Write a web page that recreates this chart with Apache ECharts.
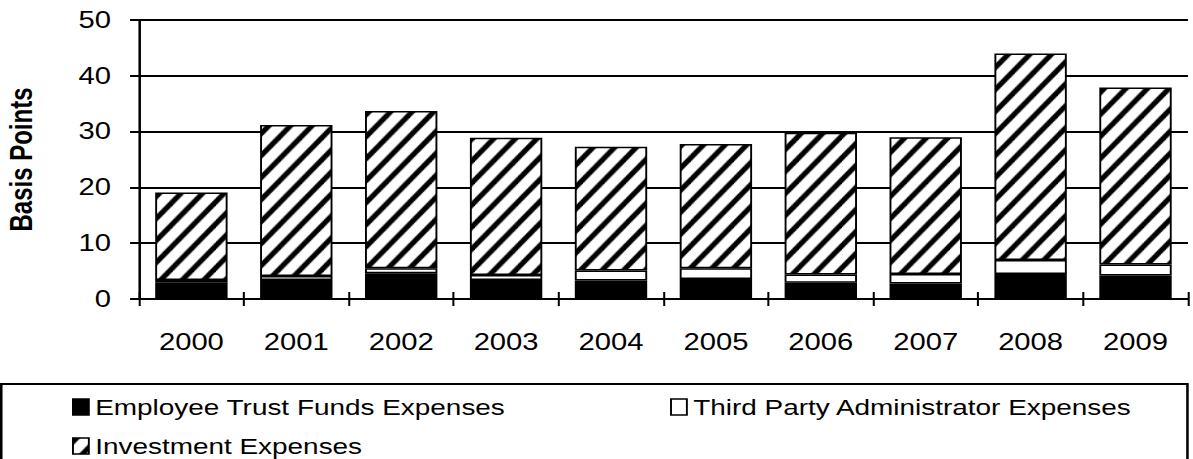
<!DOCTYPE html>
<html><head><meta charset="utf-8">
<script src="https://cdn.jsdelivr.net/npm/echarts@6/dist/echarts.min.js"></script>
<style>
html,body{margin:0;padding:0;background:#fff;overflow:hidden}
#wrap{width:1193px;height:459px;overflow:hidden;position:relative;background:#fff}
#chart{width:939px;height:459px;transform:scaleX(1.27);transform-origin:0 0}
</style></head>
<body><div id="wrap"><div id="chart"></div></div>
<script>
// ---- data ----
const years = ['2000','2001','2002','2003','2004','2005','2006','2007','2008','2009'];
const employeeTrustFunds = [3.0, 3.4, 4.6, 3.4, 3.3, 3.6, 2.9, 2.8, 4.5, 4.2];
const thirdPartyAdmin    = [0.4, 0.7, 0.9, 0.9, 1.8, 1.9, 1.5, 1.7, 2.5, 2.0];
const investment         = [15.7, 27.1, 28.2, 24.6, 22.2, 22.3, 25.4, 24.5, 37.0, 31.7];
const seriesNames = ['Employee Trust Funds Expenses', 'Third Party Administrator Expenses', 'Investment Expenses'];
const yMin = 0, yMax = 50, yInterval = 10;
const yAxisTitle = 'Basis Points';

// ---- hatch pattern (diagonal stripes) ----
function makeHatch() {
  const w = 17, h = 22, t = 0.34;
  const c = document.createElement('canvas');
  c.width = w; c.height = h;
  const ctx = c.getContext('2d');
  ctx.fillStyle = '#fff'; ctx.fillRect(0, 0, w, h);
  ctx.fillStyle = '#000';
  for (let k = -1; k <= 2; k++) {
    ctx.beginPath();
    ctx.moveTo(k * w, 0);
    ctx.lineTo((k + t) * w, 0);
    ctx.lineTo((k + t - 1) * w, h);
    ctx.lineTo((k - 1) * w, h);
    ctx.closePath();
    ctx.fill();
  }
  return c;
}
const hatch = makeHatch();

const FONT = '"Liberation Sans", Arial, Helvetica, sans-serif';
const chart = echarts.init(document.getElementById('chart'), null, {renderer: 'svg'});

const barStyleBase = {borderColor: '#000', borderWidth: 1.5};
const legendCommon = {
  orient: 'horizontal', padding: 0, itemWidth: 12.5, itemHeight: 16, icon: 'rect',
  textStyle: {fontFamily: FONT, fontSize: 22, color: '#000'},
  itemStyle: {borderColor: '#000', borderWidth: 1.5},
  selectedMode: false
};

chart.setOption({
  animation: false,
  backgroundColor: '#fff',
  grid: {left: 109.4, right: 3.6, top: 20, bottom: 160, containLabel: false, outerBoundsMode: 'none'},
  legend: [
    Object.assign({}, legendCommon, {data: [seriesNames[0]], left: 56.7, top: 396}),
    Object.assign({}, legendCommon, {data: [seriesNames[1]], left: 527.6, top: 396}),
    Object.assign({}, legendCommon, {data: [seriesNames[2]], left: 56.7, top: 435})
  ],
  xAxis: [
    {
      type: 'category', data: years, position: 'bottom',
      axisLine: {lineStyle: {color: '#000', width: 2}},
      axisTick: {show: true, length: 7, lineStyle: {color: '#000', width: 1.6}},
      axisLabel: {fontFamily: FONT, fontSize: 23, color: '#000', margin: 32}
    },
    {
      type: 'category', data: years, position: 'bottom',
      axisLine: {show: false},
      axisTick: {show: true, inside: true, length: 7, lineStyle: {color: '#000', width: 1.6}},
      axisLabel: {show: false}
    }
  ],
  yAxis: {
    type: 'value', min: yMin, max: yMax, interval: yInterval,
    name: yAxisTitle, nameLocation: 'middle', nameGap: 80.5,
    nameTextStyle: {fontFamily: FONT, fontSize: 24, fontWeight: 'bold', color: '#000'},
    axisLine: {show: true, lineStyle: {color: '#000', width: 2}},
    axisTick: {show: true, length: 7, lineStyle: {color: '#000', width: 2}},
    axisLabel: {fontFamily: FONT, fontSize: 23, color: '#000', margin: 22},
    splitLine: {show: true, lineStyle: {color: '#000', width: 2}}
  },
  series: [
    {name: seriesNames[0], type: 'bar', stack: 'total', data: employeeTrustFunds, barCategoryGap: '31%',
     itemStyle: Object.assign({color: '#000'}, barStyleBase)},
    {name: seriesNames[1], type: 'bar', stack: 'total', data: thirdPartyAdmin, barCategoryGap: '31%',
     itemStyle: Object.assign({color: '#fff'}, barStyleBase)},
    {name: seriesNames[2], type: 'bar', stack: 'total', data: investment, barCategoryGap: '31%',
     itemStyle: Object.assign({color: {image: hatch, repeat: 'repeat', imageWidth: 17, imageHeight: 22}}, barStyleBase)}
  ],
  graphic: [
    {type: 'rect', silent: true, z: -1,
     shape: {x: 1, y: 384, width: 934, height: 120},
     style: {fill: 'none', stroke: '#000', lineWidth: 2}}
  ]
});
</script>
</body></html>
